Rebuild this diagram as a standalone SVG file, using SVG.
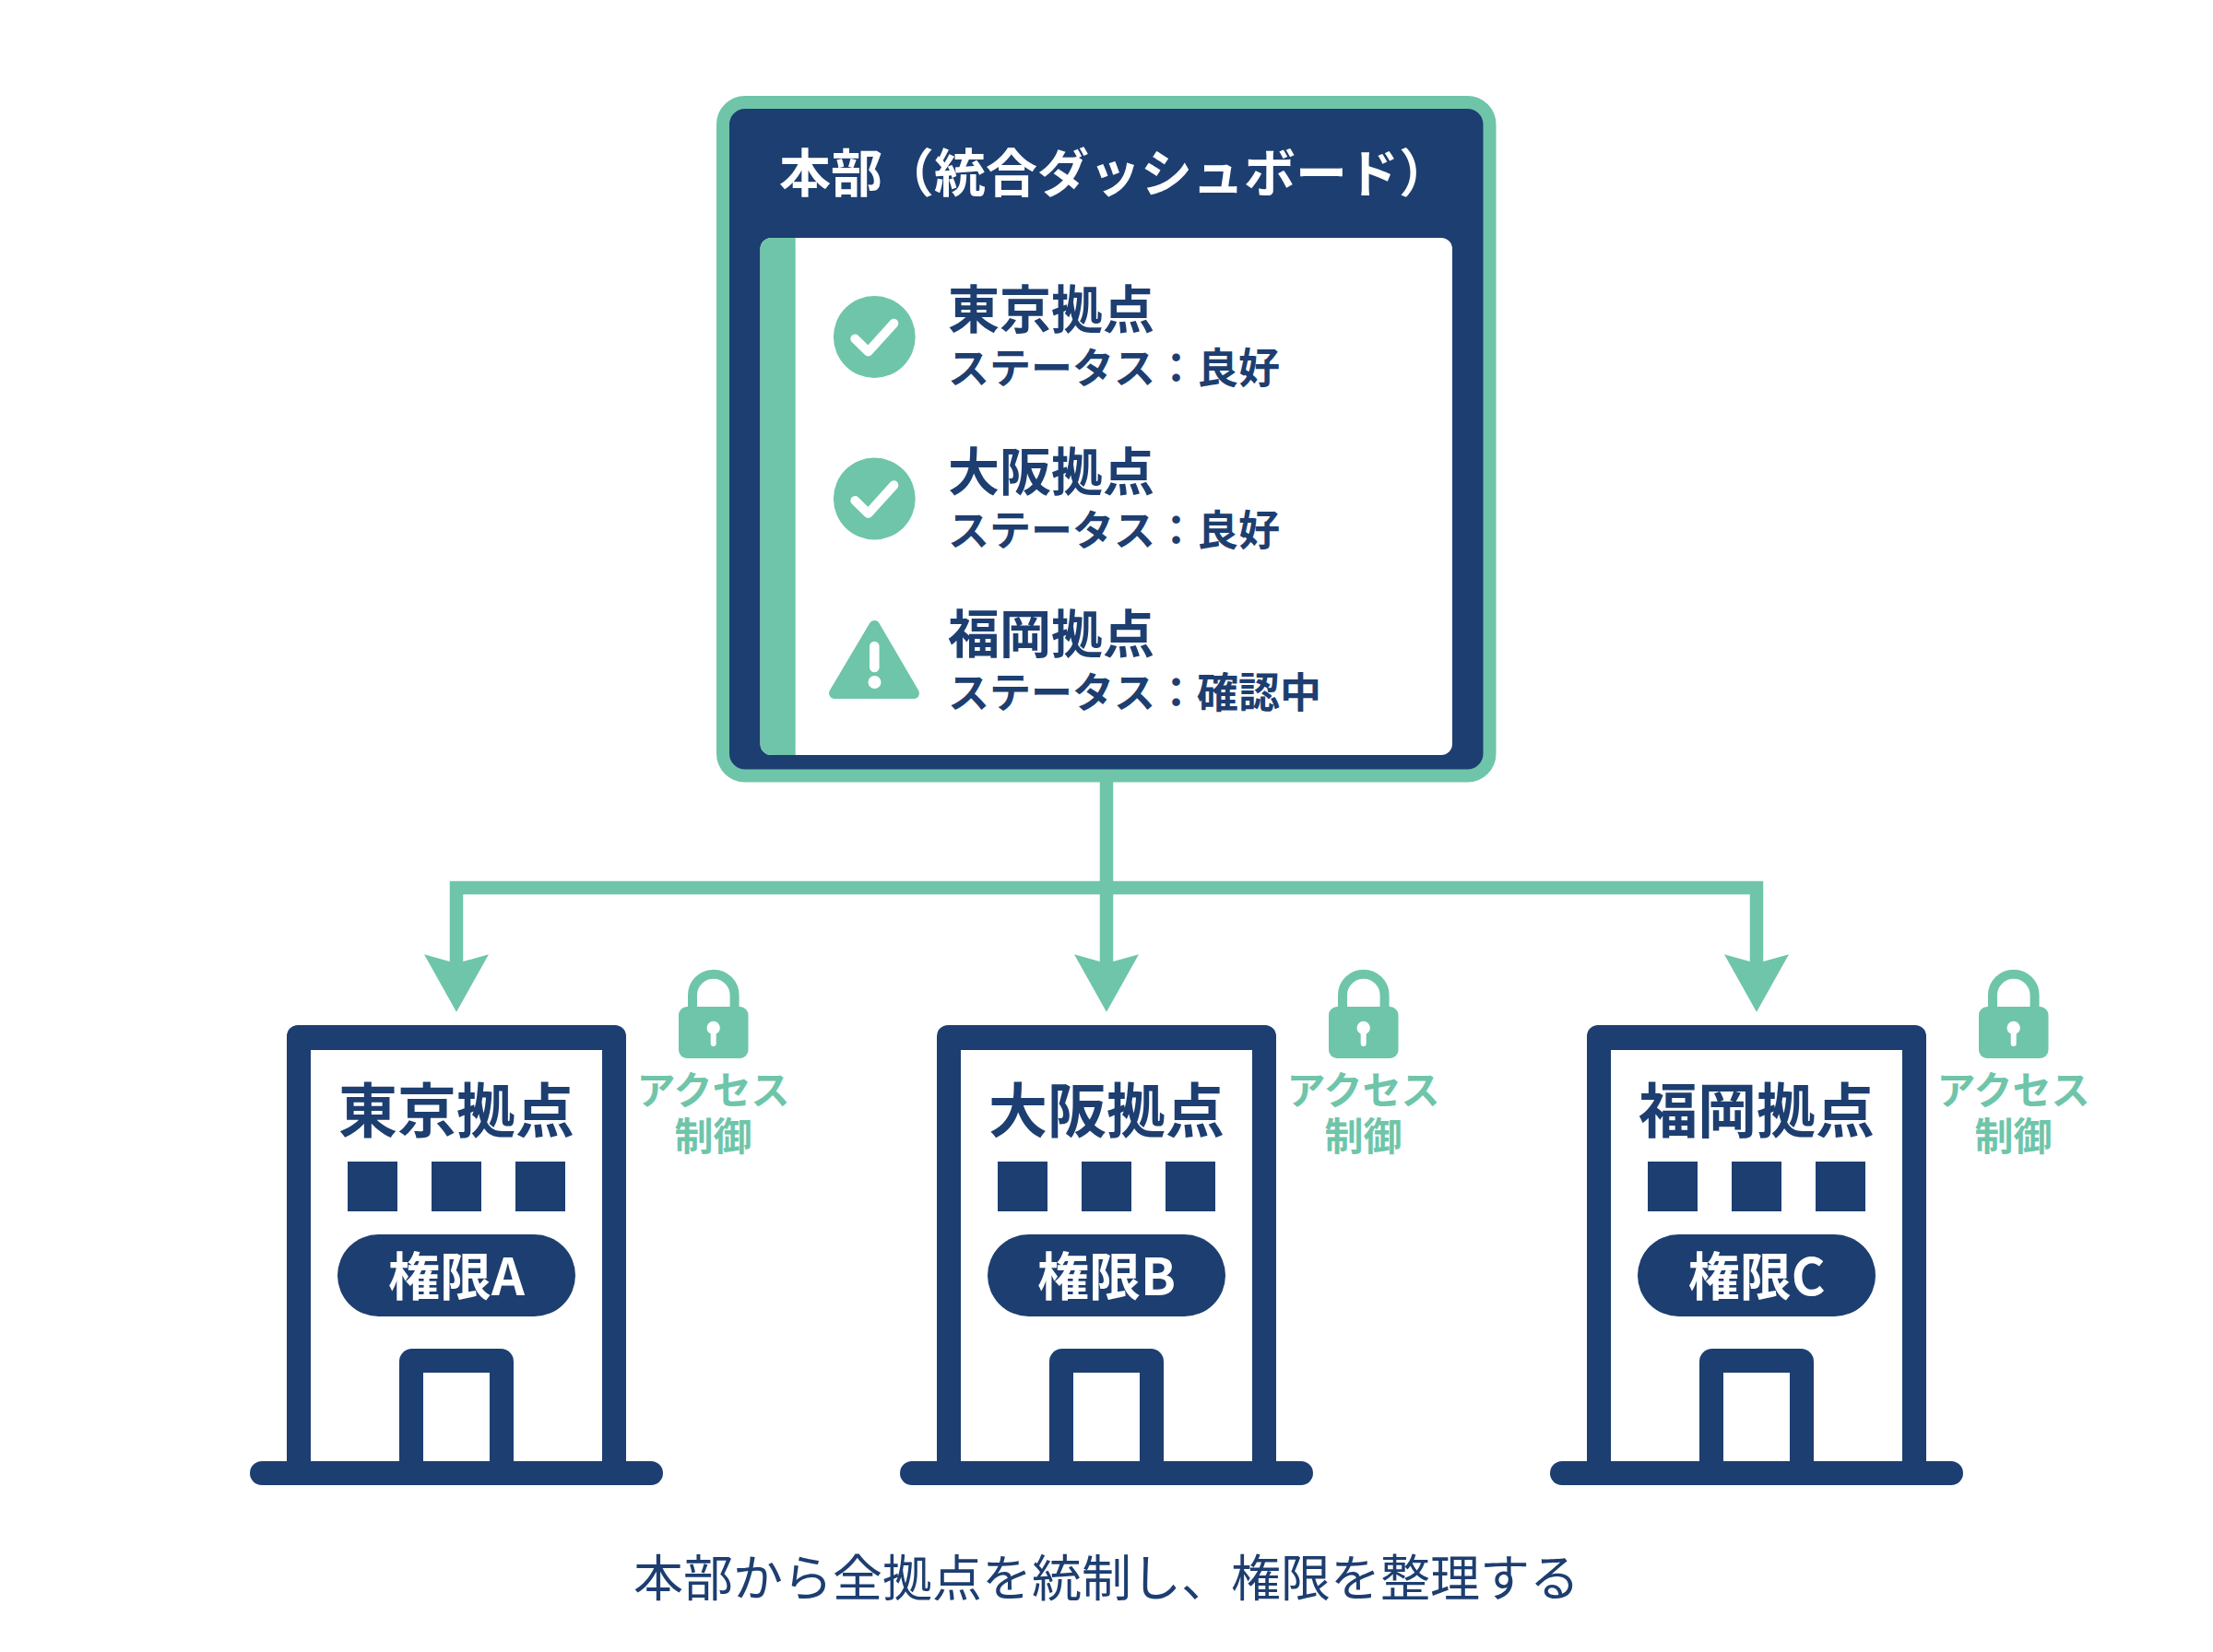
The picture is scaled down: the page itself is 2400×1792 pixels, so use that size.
<svg xmlns="http://www.w3.org/2000/svg" width="2400" height="1792" viewBox="0 0 2400 1792">
<style>
text{font-family:"Noto Sans CJK JP","Noto Sans",sans-serif}
.navy{fill:#1d3e70}.teal{fill:#6fc5a9}.white{fill:#fff}
.line{fill:none;stroke:#6fc5a9;stroke-width:14.500}
.t{font-size:56px;font-weight:700;fill:#fff}
.n{font-size:56px;font-weight:700;fill:#1d3e70}
.s{font-size:45px;font-weight:700;fill:#1d3e70}
.bn{font-size:64px;font-weight:700;fill:#1d3e70;text-anchor:middle}
.p{font-size:56px;font-weight:700;fill:#fff;text-anchor:middle}
.ac{font-size:42px;font-weight:700;fill:#6fc5a9;text-anchor:middle}
.cap{font-size:54px;font-weight:400;fill:#1d3e70;text-anchor:middle}
.chk{fill:none;stroke:#fff;stroke-width:10;stroke-linecap:round;stroke-linejoin:round}
</style>
<defs>
<g id="shell">
<rect class="navy" x="-184" y="1112" width="368" height="490" rx="12"/>
<rect class="white" x="-158" y="1139" width="316" height="450"/>
<rect class="navy" x="-224" y="1585" width="448" height="26" rx="13"/>
<rect class="navy" x="-118" y="1260" width="54" height="54"/>
<rect class="navy" x="-27" y="1260" width="54" height="54"/>
<rect class="navy" x="64" y="1260" width="54" height="54"/>
<rect class="navy" x="-129" y="1339" width="258" height="89" rx="44.500"/>
<path class="navy" d="M-62 1590V1477a14 14 0 0 1 14-14H48a14 14 0 0 1 14 14V1590Z"/>
<rect class="white" x="-36" y="1489" width="72" height="96"/>
</g>
<g id="lock">
<path fill="none" stroke="#6fc5a9" stroke-width="10" d="M751 1100V1079.500a22.800 22.800 0 0 1 45.600 0V1100"/>
<rect class="teal" x="736" y="1092" width="75.500" height="56" rx="9"/>
<circle class="white" cx="773.700" cy="1115" r="7.200"/>
<rect class="white" x="770.700" y="1115" width="6" height="20" rx="3"/>
</g>
<g id="check">
<circle class="teal" cx="0" cy="0" r="44.400"/>
<path class="chk" d="M-21 2L-6.700 16L21-14.700"/>
</g>
</defs>
<rect width="2400" height="1792" fill="#fff"/>
<g id="connectors">
<path class="line" d="M1200 847V1048M495 1048V963H1905V1048"/>
<path class="teal" d="M460 1035.300L495 1045L530 1035.300L495 1097.700Z"/>
<path class="teal" d="M1165 1035.300L1200 1045L1235 1035.300L1200 1097.700Z"/>
<path class="teal" d="M1870 1035.300L1905 1045L1940 1035.300L1905 1097.700Z"/>
</g>
<g id="hq">
<rect x="784" y="111" width="831.500" height="730.500" rx="24" fill="#1d3e70" stroke="#6fc5a9" stroke-width="14"/>
<text class="t" x="845" y="208">本部（統合ダッシュボード）</text>
<rect class="white" x="824.500" y="258" width="750.500" height="561" rx="12"/>
<path class="teal" d="M862.700 258H836.500a12 12 0 0 0-12 12V807a12 12 0 0 0 12 12H862.700Z"/>
<g id="status-tokyo">
<use href="#check" transform="translate(948.300 365.500)"/>
<text class="n" x="1028" y="356">東京拠点</text>
<text class="s" x="1028" y="416">ステータス：良好</text>
</g>
<g id="status-osaka">
<use href="#check" transform="translate(948.300 541)"/>
<text class="n" x="1028" y="532">大阪拠点</text>
<text class="s" x="1028" y="592">ステータス：良好</text>
</g>
<g id="status-fukuoka">
<path class="teal" stroke="#6fc5a9" stroke-width="12" stroke-linejoin="round" d="M948.300 679L991 752H905Z"/>
<path fill="#fff" d="M943 701a5.300 5.300 0 0 1 10.600 0V724a5.300 5.300 0 0 1-10.600 0Z"/>
<circle class="white" cx="948.500" cy="740" r="7"/>
<text class="n" x="1028" y="708">福岡拠点</text>
<text class="s" x="1028" y="768">ステータス：確認中</text>
</g>
</g>
<g id="site-tokyo">
<use href="#shell" x="495"/>
<text class="bn" x="495" y="1228">東京拠点</text>
<text class="p" x="495" y="1405">権限A</text>
<use href="#lock"/>
<text class="ac" x="773.500" y="1198">アクセス<tspan x="773.500" y="1248">制御</tspan></text>
</g>
<g id="site-osaka">
<use href="#shell" x="1200"/>
<text class="bn" x="1200" y="1228">大阪拠点</text>
<text class="p" x="1200" y="1405">権限B</text>
<use href="#lock" x="705"/>
<text class="ac" x="1478.500" y="1198">アクセス<tspan x="1478.500" y="1248">制御</tspan></text>
</g>
<g id="site-fukuoka">
<use href="#shell" x="1905"/>
<text class="bn" x="1905" y="1228">福岡拠点</text>
<text class="p" x="1905" y="1405">権限C</text>
<use href="#lock" x="1410"/>
<text class="ac" x="2183.500" y="1198">アクセス<tspan x="2183.500" y="1248">制御</tspan></text>
</g>
<text id="caption" class="cap" x="1200" y="1732">本部から全拠点を統制し、権限を整理する</text>
</svg>
